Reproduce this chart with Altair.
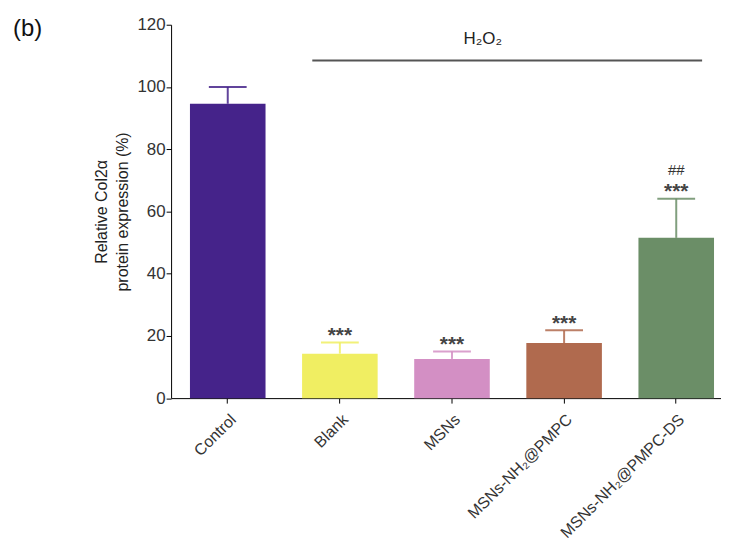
import altair as alt
import pandas as pd

groups = ["Control", "Blank", "MSNs", "MSNs-NH₂@PMPC", "MSNs-NH₂@PMPC-DS"]
means = [94.6, 14.3, 12.6, 17.7, 51.5]
sds = [5.4, 3.6, 2.4, 4.1, 12.6]
stars = ["", "***", "***", "***", "***"]
hashes = ["", "", "", "", "##"]
colors = ["#45238a", "#f0ee62", "#d38fc4", "#b06a4e", "#6b8e67"]

df = pd.DataFrame({"g": groups, "m": means, "sd": sds, "star": stars, "hash": hashes})
df["top"] = df["m"] + df["sd"]

FONT = "Liberation Sans"

xs = alt.X("g:N", sort=groups,
           scale=alt.Scale(paddingInner=0.326, paddingOuter=0.1153, align=0.73),
           axis=alt.Axis(title=None, labelAngle=-45, labelAlign="right", labelBaseline="top",
                         labelFontSize=16, labelColor="#333", labelFont=FONT,
                         domainColor="#000", tickColor="#000", tickSize=5, labelPadding=8))
ys = alt.Y("m:Q", scale=alt.Scale(domain=[0, 120], nice=False),
           axis=alt.Axis(title=["Relative Col2α", "protein expression (%)"],
                         values=[0, 20, 40, 60, 80, 100, 120], tickSize=5,
                         labelFontSize=17, labelColor="#333", labelFont=FONT, labelPadding=1,
                         titleFont=FONT, titleFontSize=16, titleFontWeight="normal",
                         titleLineHeight=22,
                         titleColor="#222", titlePadding=6, grid=False,
                         domainColor="#000", tickColor="#000"))
color = alt.Color("g:N", sort=groups, scale=alt.Scale(domain=groups, range=colors), legend=None)

base = alt.Chart(df)
bars = base.mark_bar().encode(x=xs, y=ys, color=color)
err = base.mark_rule(strokeWidth=2, opacity=0.85).encode(
    x=alt.X("g:N", sort=groups), y="m:Q", y2="top:Q", color=color)
cap = base.mark_tick(size=38, thickness=2, opacity=0.85).encode(
    x=alt.X("g:N", sort=groups), y="top:Q", color=color)
st = base.mark_text(fontSize=21, font=FONT, fontWeight="bold", dy=-6.5, color="#444").encode(
    x=alt.X("g:N", sort=groups), y="top:Q", text="star:N")
hs = base.mark_text(fontSize=15, font=FONT, dy=-29, color="#333").encode(
    x=alt.X("g:N", sort=groups), y="top:Q", text="hash:N")

lab = pd.DataFrame({"y": [108.5], "t": ["H₂O₂"], "yt": [115.5]})
line = alt.Chart(lab).mark_rule(color="#555", strokeWidth=2).encode(
    x=alt.value(142), x2=alt.value(534), y="y:Q")
ltxt = alt.Chart(lab).mark_text(fontSize=17, font=FONT, color="#222").encode(
    x=alt.value(313.5), y="yt:Q", text="t:N")
blab = alt.Chart(pd.DataFrame({"t": ["(b)"]})).mark_text(
    fontSize=24, font=FONT, color="#111", align="left", baseline="alphabetic").encode(
    x=alt.value(-159), y=alt.value(11.7), text="t:N")

chart = alt.layer(bars, err, cap, st, hs, line, ltxt, blab).properties(
    width=553, height=375.5,
    background="white",
    autosize=alt.AutoSizeParams(type="none"),
    padding={"left": 164, "top": 15.3, "right": 0, "bottom": 150},
).configure_view(strokeWidth=0)

chart.save("out.html", embed_options={"renderer": "svg", "actions": False})
